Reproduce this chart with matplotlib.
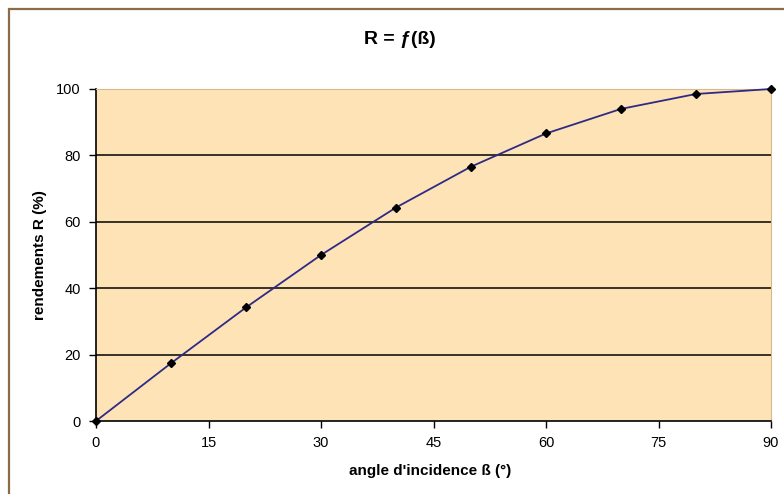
import matplotlib.pyplot as plt
from matplotlib.patches import Rectangle

plt.rcParams["font.family"] = ["Liberation Sans", "DejaVu Sans"]

# angle d'incidence (deg) and rendement (%)
angles = [0, 10, 20, 30, 40, 50, 60, 70, 80, 90]
rendements = [0, 17.4, 34.2, 50.0, 64.3, 76.6, 86.6, 94.0, 98.5, 100.0]
x_ticks = [0, 15, 30, 45, 60, 75, 90]
y_ticks = [0, 20, 40, 60, 80, 100]

fig = plt.figure(figsize=(7.84, 4.94), dpi=100)
fig.patch.set_facecolor("white")

# outer chart frame (cut off at right/bottom in the original)
fig.patches.append(
    Rectangle((9 / 784, -0.05), 1.0, 1 - 9 / 494 + 0.05,
              transform=fig.transFigure, fill=False,
              edgecolor="#8a6d48", linewidth=1.6)
)

ax = fig.add_axes([96 / 784, 1 - 421 / 494, 675 / 784, 332 / 494])
ax.set_facecolor("#fde3b6")

for yv in y_ticks[1:-1]:
    ax.axhline(yv, color="black", linewidth=1.1, zorder=1)

ax.plot(angles, rendements, color="#2e2a85", linewidth=1.3,
        marker="D", markersize=4.5, markerfacecolor="black",
        markeredgecolor="black", clip_on=False, zorder=3)

ax.set_xlim(0, 90)
ax.set_ylim(0, 100)
ax.set_xticks(x_ticks)
ax.set_yticks(y_ticks)
ax.tick_params(axis="both", direction="out", length=5, width=1,
               labelsize=10.5, colors="black", pad=6)

ax.spines["left"].set_color("black")
ax.spines["bottom"].set_color("black")
ax.spines["left"].set_linewidth(1.2)
ax.spines["bottom"].set_linewidth(1.2)
ax.spines["top"].set_color("#d8b88c")
ax.spines["right"].set_color("#d8b88c")

fig.text(400 / 784, 1 - 40 / 494, "R = ƒ(ß)", ha="center", va="center",
         fontsize=14, fontweight="bold")
fig.text(430 / 784, 1 - 471 / 494, "angle d'incidence ß (°)", ha="center",
         va="center", fontsize=11, fontweight="bold")
fig.text(40 / 784, 1 - 255 / 494, "rendements R (%)", ha="center",
         va="center", rotation=90, fontsize=11, fontweight="bold")

fig.savefig("out.png", dpi=100)
